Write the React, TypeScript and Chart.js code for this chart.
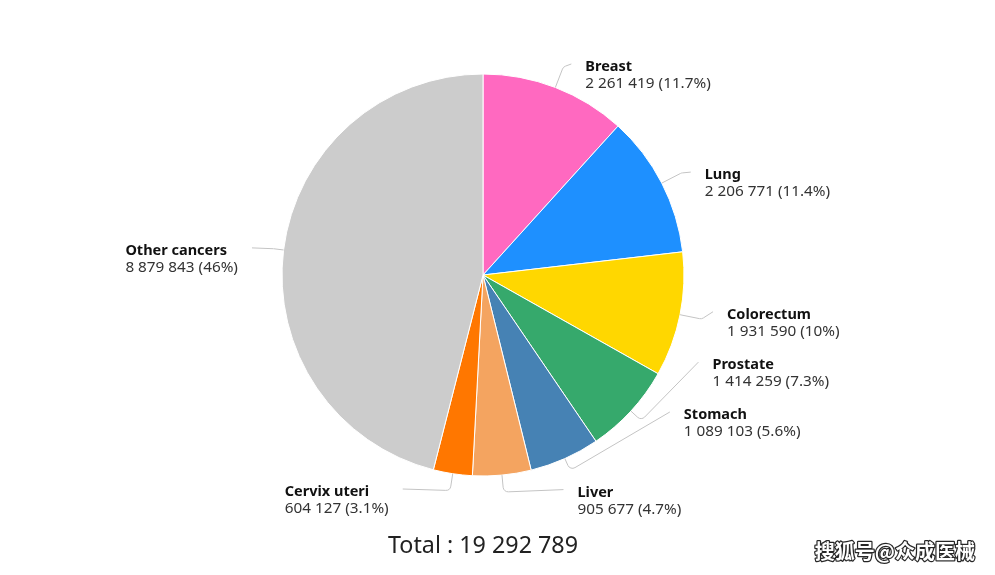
import React, { useEffect, useRef } from "react";
import { Chart, registerables } from "chart.js";

Chart.register(...registerables);

const categories = ["Breast", "Lung", "Colorectum", "Prostate", "Stomach", "Liver", "Cervix uteri", "Other cancers"];
const cases = [2261419, 2206771, 1931590, 1414259, 1089103, 905677, 604127, 8879843];
const sliceColors = ["#ff69c0", "#1e90ff", "#ffd700", "#36a96c", "#4682b4", "#f4a460", "#ff7700", "#cccccc"];
const totalLabel = "Total";
const watermark = "搜狐号@众成医械";

// leader-line layout: radial first segment length and end offset from the slice's outer mid point
const labelLayout = [
  { len: 22, dx: 16, dy: -23.5 },
  { len: 22, dx: 29, dy: -11 },
  { len: 22, dx: 33, dy: -3 },
  { len: 14, dx: 67.5, dy: -49 },
  { len: 13, dx: 105, dy: -46.6 },
  { len: 17, dx: 61.5, dy: 14.5 },
  { len: 17, dx: -50, dy: 15.3 },
  { len: 10, dx: -31.6, dy: -2.1 },
];

const FONT = "'Noto Sans', 'Open Sans', sans-serif";

function fmt(n: number): string {
  return String(n).replace(/\B(?=(\d{3})+(?!\d))/g, " ");
}

function pct(v: number, total: number): string {
  const p = (v / total) * 100;
  let s = p.toFixed(1);
  if (s.endsWith(".0")) s = s.slice(0, -2);
  return s + "%";
}

const labelPlugin = {
  id: "pieLabels",
  afterDatasetsDraw(chart: any) {
    const ctx = chart.ctx as CanvasRenderingContext2D;
    const meta = chart.getDatasetMeta(0);
    const total = cases.reduce((a, b) => a + b, 0);
    const nameFont = "bold 14.5px " + FONT;
    const valFont = "15.3px " + FONT;
    ctx.save();
    meta.data.forEach((arc: any, i: number) => {
      const { x, y, startAngle, endAngle, outerRadius } = arc.getProps(
        ["x", "y", "startAngle", "endAngle", "outerRadius"],
        true
      );
      const mid = (startAngle + endAngle) / 2;
      const cx = Math.cos(mid);
      const cy = Math.sin(mid);
      const p0x = x + cx * outerRadius;
      const p0y = y + cy * outerRadius;
      const lay = labelLayout[i];
      const ex = p0x + cx * lay.len;
      const ey = p0y + cy * lay.len;
      const qx = p0x + lay.dx;
      const qy = p0y + lay.dy;
      ctx.beginPath();
      ctx.moveTo(p0x, p0y);
      ctx.arcTo(ex, ey, qx, qy, 5);
      ctx.lineTo(qx, qy);
      ctx.strokeStyle = "#c4c4c4";
      ctx.lineWidth = 1;
      ctx.stroke();

      const name = categories[i];
      const val = fmt(cases[i]) + " (" + pct(cases[i], total) + ")";
      const right = lay.dx >= 0;
      ctx.textBaseline = "middle";
      ctx.textAlign = "left";
      ctx.font = nameFont;
      const wName = ctx.measureText(name).width;
      ctx.font = valFont;
      const wVal = ctx.measureText(val).width;
      const blockW = Math.max(wName, wVal);
      const tx = right ? qx + 14 : qx - 14 - blockW;
      ctx.font = nameFont;
      ctx.fillStyle = "#111";
      ctx.fillText(name, tx, qy + 3);
      ctx.font = valFont;
      ctx.fillStyle = "#333";
      ctx.fillText(val, tx, qy + 20);
    });

    // total
    const cxm = (chart.chartArea.left + chart.chartArea.right) / 2;
    ctx.font = "23.3px " + FONT;
    ctx.fillStyle = "#222";
    ctx.textAlign = "center";
    ctx.textBaseline = "middle";
    ctx.fillText(totalLabel + " : " + fmt(total), cxm, 546);

    // watermark
    ctx.font = "bold 20px 'Noto Sans CJK SC', sans-serif";
    ctx.textAlign = "right";
    ctx.textBaseline = "middle";
    ctx.lineWidth = 2.5;
    ctx.strokeStyle = "rgba(0,0,0,0.85)";
    ctx.lineJoin = "round";
    ctx.strokeText(watermark, 975, 551);
    ctx.fillStyle = "#fff";
    ctx.fillText(watermark, 975, 551);
    ctx.restore();
  },
};

export default function App() {
  const ref = useRef<HTMLCanvasElement | null>(null);
  useEffect(() => {
    if (!ref.current) return;
    const chart = new Chart(ref.current, {
      type: "pie",
      data: {
        labels: categories,
        datasets: [
          {
            data: cases,
            backgroundColor: sliceColors,
            borderColor: "#ffffff",
            borderWidth: 1,
          },
        ],
      },
      options: {
        responsive: false,
        animation: false,
        radius: 201,
        layout: { padding: { left: 0, right: 29, top: 74, bottom: 99 } },
        plugins: { legend: { display: false }, tooltip: { enabled: false } },
      } as any,
      plugins: [labelPlugin],
    });
    return () => chart.destroy();
  }, []);
  return (
    <div style={{ position: "absolute", left: 0, top: 0, width: 995, height: 575, background: "#fff" }}>
      <canvas ref={ref} width={995} height={575} style={{ display: "block" }} />
    </div>
  );
}
